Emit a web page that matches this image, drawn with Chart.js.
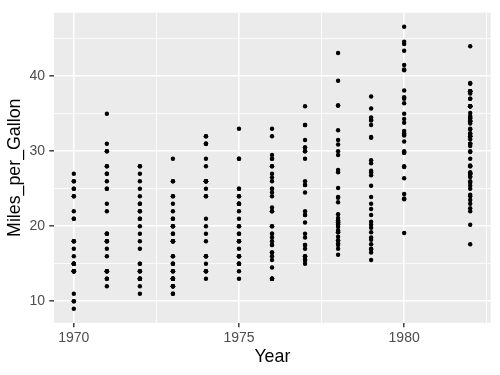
<!DOCTYPE html>
<html>
<head>
<meta charset="utf-8">
<script src="https://cdn.jsdelivr.net/npm/chart.js@4.4.1/dist/chart.umd.min.js"></script>
<style>
  body { margin: 0; background: #fff; }
  #wrap { width: 500px; height: 375px; }
</style>
</head>
<body>
<div id="wrap"><canvas id="mpg_years" width="500" height="375"></canvas></div>
<script>
// miles per gallon per model year (1981 models are listed under 1982)
var mpg1970 = [18, 15, 18, 16, 17, 15, 14, 14, 14, 15, 15, 14, 15, 14, 24, 22, 18, 21, 27, 26, 25, 24, 25, 26, 21, 10, 10, 11, 9];
var mpg1971 = [27, 28, 25, 25, 19, 16, 17, 19, 18, 14, 14, 14, 14, 12, 13, 13, 18, 22, 19, 18, 23, 28, 30, 30, 31, 35, 27, 26];
var mpg1972 = [24, 25, 23, 20, 21, 13, 14, 15, 14, 17, 11, 13, 12, 13, 19, 15, 13, 13, 14, 18, 22, 21, 26, 22, 28, 23, 28, 27];
var mpg1973 = [13, 14, 13, 14, 15, 12, 13, 13, 14, 13, 12, 13, 18, 16, 18, 18, 23, 26, 11, 12, 13, 12, 18, 20, 21, 22, 18, 19, 21, 26, 15, 16, 29, 24, 20, 19, 15, 24, 20, 11];
var mpg1974 = [20, 21, 19, 15, 31, 26, 32, 25, 16, 16, 18, 16, 13, 14, 14, 14, 29, 26, 26, 31, 32, 28, 24, 26, 24, 26, 31];
var mpg1975 = [19, 18, 15, 15, 16, 15, 16, 14, 17, 16, 15, 18, 21, 20, 13, 29, 23, 20, 23, 24, 25, 24, 18, 29, 19, 23, 23, 22, 25, 33];
var mpg1976 = [28, 25, 25, 26, 27, 17.5, 16, 15.5, 14.5, 22, 22, 24, 22.5, 29, 24.5, 29, 33, 20, 18, 18.5, 17.5, 29.5, 32, 28, 26.5, 20, 13, 19, 19, 16.5, 16.5, 13, 13, 13];
var mpg1977 = [31.5, 30, 36, 25.5, 33.5, 17.5, 17, 15.5, 15, 17.5, 20.5, 19, 18.5, 16, 15.5, 15.5, 16, 29, 24.5, 26, 25.5, 30.5, 33.5, 30, 30.5, 22, 21.5, 21.5];
var mpg1978 = [43.1, 36.1, 32.8, 39.4, 36.1, 19.9, 19.4, 20.2, 19.2, 20.5, 20.2, 25.1, 20.5, 19.4, 20.6, 20.8, 18.6, 18.1, 19.2, 17.7, 18.1, 17.5, 30, 27.5, 27.2, 30.9, 21.1, 23.2, 23.8, 23.9, 20.3, 17, 21.6, 16.2, 31.5, 29.5];
var mpg1979 = [21.5, 19.8, 22.3, 20.2, 20.6, 17, 17.6, 16.5, 18.2, 16.9, 15.5, 19.2, 18.5, 31.9, 34.1, 35.7, 27.4, 25.4, 23, 27.2, 23.9, 34.2, 34.5, 31.8, 37.3, 28.4, 28.8, 26.8, 33.5];
var mpg1980 = [41.5, 38.1, 32.1, 37.2, 28, 26.4, 24.3, 19.1, 34.3, 29.8, 31.3, 37, 32.2, 46.6, 27.9, 40.8, 44.3, 43.4, 36.4, 30, 44.6, 40.9, 33.8, 29.8, 32.7, 23.7, 35, 23.6, 32.4];
var mpg1982 = [27.2, 26.6, 25.8, 23.5, 30, 39.1, 39, 35.1, 32.3, 37, 37.7, 34.1, 34.7, 34.4, 29.9, 33, 34.5, 33.7, 32.4, 32.9, 31.6, 28.1, 30.7, 25.4, 24.2, 22.4, 26.6, 20.2, 17.6,
               28, 27, 34, 31, 29, 27, 24, 23, 36, 37, 31, 38, 36, 36, 36, 34, 38, 32, 38, 25, 38, 26, 22, 32, 36, 27, 27, 44, 32, 28, 31];

var years = [1970, 1971, 1972, 1973, 1974, 1975, 1976, 1977, 1978, 1979, 1980, 1982];
var mpgByYear = [mpg1970, mpg1971, mpg1972, mpg1973, mpg1974, mpg1975, mpg1976, mpg1977, mpg1978, mpg1979, mpg1980, mpg1982];

var xGrid = [1970, 1972.5, 1975, 1977.5, 1980, 1982.5];   // majors every 5, minors between
var yGrid = [10, 15, 20, 25, 30, 35, 40, 45];

var points = [];
for (var i = 0; i < years.length; ++i) {
    for (var j = 0; j < mpgByYear[i].length; ++j) {
        points.push({x: years[i], y: mpgByYear[i][j]});
    }
}

// grey panel behind the plot, like ggplot's theme_grey
const panelBg = {
    id: 'panelBg',
    beforeDraw: function(chart) {
        const a = chart.chartArea;
        const ctx = chart.ctx;
        ctx.save();
        ctx.fillStyle = '#EBEBEB';
        ctx.fillRect(a.left, a.top, a.right - a.left, a.bottom - a.top);
        ctx.restore();
    }
};

function isMajor(v, step) {
    return Math.abs(v / step - Math.round(v / step)) < 1e-6;
}

var tickFont = {family: 'Liberation Sans, Arial, sans-serif', size: 14};
var titleFont = {family: 'Liberation Sans, Arial, sans-serif', size: 17.8};

let chartMpg = new Chart(document.getElementById('mpg_years'), {
    type: 'scatter',
    data: {
        datasets: [{
            data: points,
            backgroundColor: '#000000',
            borderWidth: 0,
            pointRadius: 2.2,
            pointHoverRadius: 2.2
        }]
    },
    plugins: [panelBg],
    options: {
        responsive: false,
        animation: false,
        events: [],
        layout: {padding: {top: 8.5, right: 9.3, left: 0, bottom: 0}},
        plugins: {
            legend: {display: false},
            tooltip: {enabled: false}
        },
        scales: {
            x: {
                type: 'linear',
                min: 1969.4,
                max: 1982.62,
                afterBuildTicks: function(scale) {
                    scale.ticks = xGrid.map(function(v) { return {value: v}; });
                },
                afterFit: function(scale) { scale.height = 52.2; },
                border: {display: false},
                grid: {
                    color: '#FFFFFF',
                    lineWidth: function(c) { return isMajor(c.tick.value, 5) ? 1.6 : 0.8; },
                    tickColor: function(c) { return isMajor(c.tick.value, 5) ? '#333333' : 'rgba(0,0,0,0)'; },
                    tickLength: 4.5,
                    tickWidth: 1.4
                },
                ticks: {
                    autoSkip: false,
                    maxRotation: 0,
                    padding: 2,
                    color: '#4D4D4D',
                    font: tickFont,
                    callback: function(value) {
                        return isMajor(value, 5) ? String(value) : '';
                    }
                },
                title: {
                    display: true,
                    text: 'Year',
                    color: '#000000',
                    font: titleFont,
                    padding: {top: 0, bottom: 7.3}
                }
            },
            y: {
                type: 'linear',
                min: 7.12,
                max: 48.48,
                afterBuildTicks: function(scale) {
                    scale.ticks = yGrid.map(function(v) { return {value: v}; });
                },
                afterFit: function(scale) { scale.width = 54; },
                border: {display: false},
                grid: {
                    color: '#FFFFFF',
                    lineWidth: function(c) { return isMajor(c.tick.value, 10) ? 1.6 : 0.8; },
                    tickColor: function(c) { return isMajor(c.tick.value, 10) ? '#333333' : 'rgba(0,0,0,0)'; },
                    tickLength: 4.7,
                    tickWidth: 1.4
                },
                ticks: {
                    autoSkip: false,
                    padding: 4.3,
                    color: '#4D4D4D',
                    font: tickFont,
                    callback: function(value) {
                        return isMajor(value, 10) ? String(value) : '';
                    }
                },
                title: {
                    display: true,
                    text: 'Miles_per_Gallon',
                    color: '#000000',
                    font: titleFont,
                    padding: {top: 4.3, bottom: 0}
                }
            }
        }
    }
});
</script>
</body>
</html>
